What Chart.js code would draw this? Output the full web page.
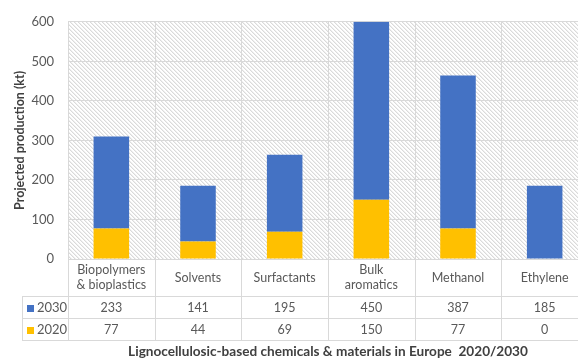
<!DOCTYPE html>
<html>
<head>
<meta charset="utf-8">
<script src="https://cdn.jsdelivr.net/npm/chart.js@4/dist/chart.umd.min.js"></script>
<style>
  html, body { margin: 0; padding: 0; background: #fff; overflow: hidden; }
  #wrap { width: 578px; height: 360px; overflow: hidden; position: relative; }
  canvas { display: block; }
</style>
</head>
<body>
<div id="wrap"><canvas id="c" width="588" height="360"></canvas></div>
<script>
// Product categories (multi-line labels for the table row)
const categories = [
  ['Biopolymers', '& bioplastics'],
  ['Solvents'],
  ['Surfactants'],
  ['Bulk', 'aromatics'],
  ['Methanol'],
  ['Ethylene']
];
// Projected production, kt
const values2020 = [77, 44, 69, 150, 77, 0];
const values2030 = [233, 141, 195, 450, 387, 185];
const yTicks = [0, 100, 200, 300, 400, 500, 600];

const BLUE = '#4472C4';
const YELLOW = '#FFC000';
const TEXT = '#595959';
const GRID = '#d9d9d9';
const FONT = 'Lato, "Open Sans", sans-serif';

// Diagonal hatch fill for the plot background
function makeHatch() {
  const t = document.createElement('canvas');
  t.width = 4; t.height = 4;
  const g = t.getContext('2d');
  g.fillStyle = '#ffffff';
  g.fillRect(0, 0, 4, 4);
  g.fillStyle = '#dadada';
  for (let i = 0; i < 4; i++) g.fillRect(i, i, 1, 1);
  g.fillStyle = '#efefef';
  for (let i = 0; i < 4; i++) g.fillRect((i + 1) % 4, i, 1, 1);
  return t;
}

const hatchPlugin = {
  id: 'hatch',
  beforeDraw(chart) {
    const { ctx, chartArea: a } = chart;
    ctx.save();
    ctx.fillStyle = ctx.createPattern(makeHatch(), 'repeat');
    ctx.fillRect(a.left, a.top, a.right - a.left, a.bottom - a.top);
    ctx.restore();
  }
};

// Data table under the plot: category row + one row per series
const tablePlugin = {
  id: 'dataTable',
  afterDraw(chart) {
    const { ctx, chartArea: a, scales } = chart;
    const x = scales.x;
    const n = categories.length;
    const step = (a.right - a.left) / n;
    const rowTop = a.bottom;
    const r1 = rowTop + 37;   // end of category row
    const r2 = r1 + 22;       // end of 2030 row
    const r3 = r2 + 22;       // end of 2020 row
    const legendLeft = 22;

    ctx.save();
    ctx.strokeStyle = GRID;
    ctx.lineWidth = 1;
    ctx.beginPath();
    // vertical separators through plot and table
    for (let i = 0; i <= n; i++) {
      const px = Math.round(a.left + i * step) + 0.5;
      ctx.moveTo(px, a.top);
      ctx.lineTo(px, r3);
    }
    // horizontal table lines
    ctx.moveTo(a.left, rowTop + 0.5); ctx.lineTo(chart.width, rowTop + 0.5);
    [r1, r2, r3].forEach(y => {
      ctx.moveTo(legendLeft, y + 0.5); ctx.lineTo(chart.width, y + 0.5);
    });
    ctx.moveTo(legendLeft + 0.5, r1); ctx.lineTo(legendLeft + 0.5, r3);
    ctx.stroke();

    ctx.fillStyle = TEXT;
    ctx.font = '12.5px ' + FONT;
    ctx.textAlign = 'center';
    ctx.textBaseline = 'middle';
    categories.forEach((lines, i) => {
      const cx = x.getPixelForValue(i);
      const cy = (rowTop + r1) / 2;
      const lh = 15;
      lines.forEach((s, j) => {
        ctx.fillText(s, cx, cy + (j - (lines.length - 1) / 2) * lh);
      });
      ctx.fillText(String(values2030[i]), cx, (r1 + r2) / 2 + 1);
      ctx.fillText(String(values2020[i]), cx, (r2 + r3) / 2 + 1);
    });

    // series keys in the left column
    const rows = [
      { label: '2030', color: BLUE, y: (r1 + r2) / 2 + 1 },
      { label: '2020', color: YELLOW, y: (r2 + r3) / 2 + 1 }
    ];
    ctx.font = '13px ' + FONT;
    ctx.textAlign = 'left';
    rows.forEach(r => {
      ctx.fillStyle = r.color;
      ctx.fillRect(legendLeft + 5, Math.round(r.y) - 3, 7, 7);
      ctx.fillStyle = TEXT;
      ctx.fillText(r.label, legendLeft + 15, r.y);
    });

    // chart caption
    ctx.fillStyle = '#404040';
    ctx.font = 'bold 13.6px ' + FONT;
    ctx.textAlign = 'center';
    ctx.fillText('Lignocellulosic-based chemicals & materials in Europe  2020/2030', 328, 352);
    ctx.restore();
  }
};

new Chart(document.getElementById('c'), {
  type: 'bar',
  data: {
    labels: categories.map(c => c.join(' ')),
    datasets: [
      { label: '2020', data: values2020, backgroundColor: YELLOW, barPercentage: 0.41, categoryPercentage: 1 },
      { label: '2030', data: values2030, backgroundColor: BLUE, barPercentage: 0.41, categoryPercentage: 1 }
    ]
  },
  options: {
    responsive: false,
    animation: false,
    layout: { padding: { left: 0, top: 19, right: 0, bottom: 101 } },
    plugins: { legend: { display: false }, tooltip: { enabled: false } },
    scales: {
      x: {
        stacked: true,
        grid: { display: false },
        border: { display: false },
        ticks: { display: false },
        afterFit(s) { s.height = 0; }
      },
      y: {
        stacked: true,
        min: 0, max: 600,
        afterBuildTicks(s) { s.ticks = yTicks.map(v => ({ value: v })); },
        afterFit(s) { s.width = 68; },
        grid: { color: GRID, drawTicks: false },
        border: { display: false },
        ticks: { color: TEXT, font: { family: FONT, size: 13 }, padding: 14 },
        title: {
          display: true,
          text: 'Projected production (kt)',
          color: '#404040',
          font: { family: FONT, size: 12.5, weight: 'bold' },
          padding: { top: 12, bottom: 0 }
        }
      }
    }
  },
  plugins: [hatchPlugin, tablePlugin]
});
</script>
</body>
</html>
